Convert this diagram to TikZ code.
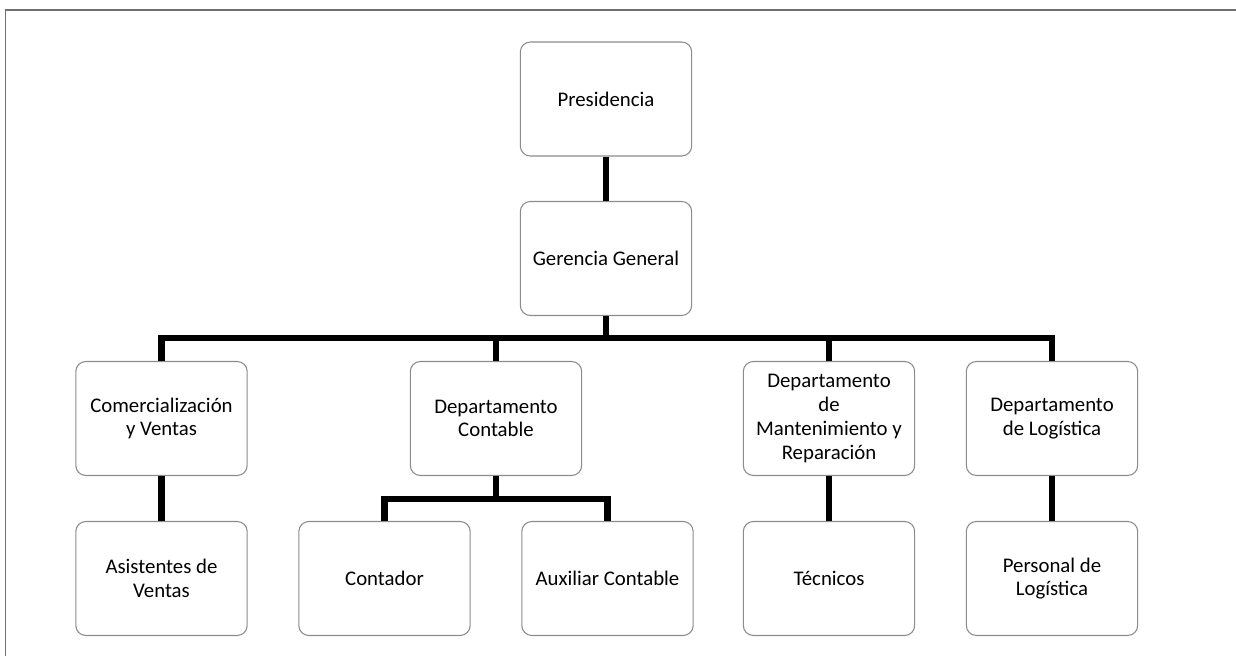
\documentclass[tikz,border=0pt]{standalone}
\usepackage{fontspec}
\setmainfont{Carlito}
\begin{document}
\begin{tikzpicture}[x=0.75pt,y=-0.75pt,
  box/.style={draw=boxgray, line width=0.8pt, rounded corners=7.5pt, fill=white,
    minimum width=128.5pt, minimum height=85.5pt, align=center, inner sep=2pt,
    font=\fontsize{15.6}{17.8}\selectfont},
  conn/.style={line width=4.8pt, black, line join=miter},
  frameline/.style={line width=1.4pt, framegray}]
\definecolor{boxgray}{HTML}{8C8C8C}
\definecolor{framegray}{HTML}{707070}
\useasboundingbox (0,0) rectangle (1236,656);
\draw[frameline] (5.5,656) -- (5.5,10) -- (1236,10);

\node[box] (pres) at (606,99) {Presidencia};
\node[box] (ger) at (606,258.5) {Gerencia General};
\node[box] (com) at (161.5,418.5) {Comercialización\\y Ventas};
\node[box] (dco) at (496,418.5) {Departamento\\Contable};
\node[box] (man) at (829,418.5) {Departamento\\de\\Mantenimiento y\\Reparación};
\node[box] (log) at (1052,418.5) {Departamento\\de Logística};
\node[box] (asi) at (161.5,578.5) {Asistentes de\\Ventas};
\node[box] (con) at (384.5,578.5) {Contador};
\node[box] (aux) at (607.5,578.5) {Auxiliar Contable};
\node[box] (tec) at (829,578.5) {Técnicos};
\node[box] (per) at (1052,578.5) {Personal de\\Logística};

\coordinate (bar) at (606,338);
\coordinate (sub) at (496,499);

\draw[conn] (pres.south) -- (ger.north);
\draw[conn] (ger.south) -- (bar);
\draw[conn] (com.north) -- (com.north |- bar) -- (log.north |- bar) -- (log.north);
\draw[conn] (dco.north) -- (dco.north |- bar);
\draw[conn] (man.north) -- (man.north |- bar);
\draw[conn] (com.south) -- (asi.north);
\draw[conn] (dco.south) -- (sub);
\draw[conn] (con.north) -- (con.north |- sub) -- (aux.north |- sub) -- (aux.north);
\draw[conn] (man.south) -- (tec.north);
\draw[conn] (log.south) -- (per.north);
\end{tikzpicture}
\end{document}
